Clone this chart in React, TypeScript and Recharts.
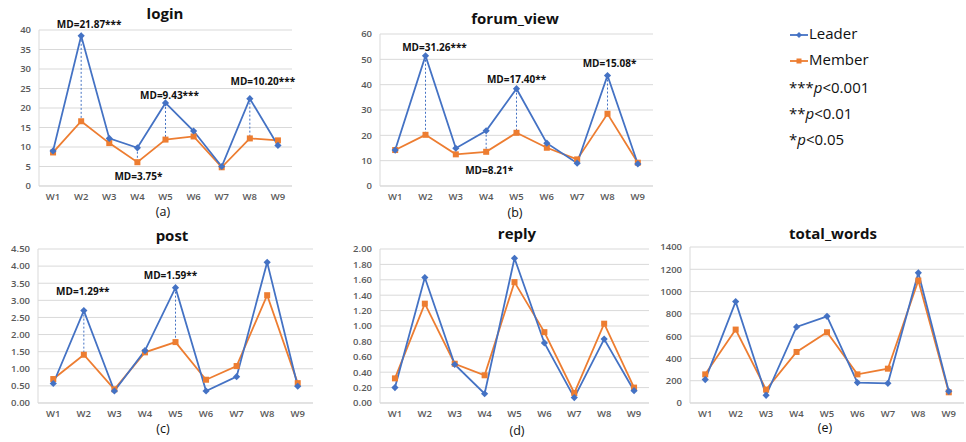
import React from "react";
import { LineChart, Line, XAxis, YAxis, CartesianGrid, ReferenceLine } from "recharts";

const weeks = ["W1", "W2", "W3", "W4", "W5", "W6", "W7", "W8", "W9"];

const loginLeader = [9.0, 38.5, 12.2, 9.8, 21.3, 14.1, 5.0, 22.4, 10.4];
const loginMember = [8.6, 16.6, 11.0, 6.1, 11.9, 12.7, 4.8, 12.2, 11.7];
const forumLeader = [14.2, 51.4, 14.9, 21.8, 38.4, 16.9, 9.0, 43.6, 8.7];
const forumMember = [14.2, 20.2, 12.5, 13.5, 21.0, 15.1, 10.5, 28.5, 9.2];
const postLeader = [0.57, 2.7, 0.35, 1.53, 3.37, 0.35, 0.77, 4.11, 0.49];
const postMember = [0.7, 1.41, 0.4, 1.48, 1.78, 0.68, 1.08, 3.15, 0.58];
const replyLeader = [0.2, 1.63, 0.5, 0.12, 1.88, 0.78, 0.07, 0.83, 0.16];
const replyMember = [0.32, 1.29, 0.51, 0.36, 1.57, 0.92, 0.13, 1.03, 0.2];
const wordsLeader = [210, 910, 69, 683, 778, 183, 177, 1168, 105];
const wordsMember = [257, 659, 120, 458, 635, 257, 308, 1099, 96];

const loginTicks = [0, 5, 10, 15, 20, 25, 30, 35, 40];
const forumTicks = [0, 10, 20, 30, 40, 50, 60];
const postTicks = [0, 0.5, 1, 1.5, 2, 2.5, 3, 3.5, 4, 4.5];
const replyTicks = [0, 0.2, 0.4, 0.6, 0.8, 1, 1.2, 1.4, 1.6, 1.8, 2];
const wordsTicks = [0, 200, 400, 600, 800, 1000, 1200, 1400];

const loginNotes = [
  { week: "W2", text: "MD=21.87***", side: "above" },
  { week: "W4", text: "MD=3.75*", side: "below" },
  { week: "W5", text: "MD=9.43***", side: "above" },
  { week: "W8", text: "MD=10.20***", side: "above" },
];
const forumNotes = [
  { week: "W2", text: "MD=31.26***", side: "above" },
  { week: "W4", text: "MD=8.21*", side: "below" },
  { week: "W5", text: "MD=17.40**", side: "above" },
  { week: "W8", text: "MD=15.08*", side: "above" },
];
const postNotes = [
  { week: "W2", text: "MD=1.29**", side: "above" },
  { week: "W5", text: "MD=1.59**", side: "above" },
];

// label nudges [dx, dy] in px, same order as the notes
const loginNudge = [[8, -11], [1, 15], [4, -7], [13, -16]];
const forumNudge = [[9, -7], [3, 20], [0, -8], [2, -11]];
const postNudge = [[-1, -18], [-5, -11]];

const BLUE = "#4472C4";
const ORANGE = "#ED7D31";
const FONT = "'Open Sans', 'Noto Sans', sans-serif";

const Diamond = (p: any) => {
  const { cx, cy } = p;
  if (cx == null || cy == null) return <g key={p.key} />;
  const s = 3.6;
  return <path key={p.key} d={`M${cx},${cy - s}L${cx + s},${cy}L${cx},${cy + s}L${cx - s},${cy}Z`} fill={BLUE} />;
};
const Square = (p: any) => {
  const { cx, cy } = p;
  if (cx == null || cy == null) return <g key={p.key} />;
  const s = 3;
  return <rect key={p.key} x={cx - s} y={cy - s} width={s * 2} height={s * 2} fill={ORANGE} />;
};

const NoteLabel = (props: any) => {
  const { viewBox, text, side, dx, dy } = props;
  if (!viewBox) return null;
  const x = viewBox.x + dx;
  const y = (side === "below" ? viewBox.y + viewBox.height : viewBox.y) + dy;
  return (
    <text x={x} y={y} textAnchor="middle" dominantBaseline="middle" fontFamily={FONT} fontSize={10} fontWeight={700} fill="#111">
      {text}
    </text>
  );
};

function Panel(props: any) {
  const { left, top, width, height, plotLeft, plotRight, plotTop, plotBottom, leader, member, ticks, digits, notes, nudge } = props;
  const yW = 30;
  const xH = 20;
  const half = (plotRight - plotLeft) / weeks.length / 2;
  const data = weeks.map((w, i) => ({ week: w, leader: leader[i], member: member[i] }));
  const max = ticks[ticks.length - 1];
  return (
    <div style={{ position: "absolute", left, top }}>
      <LineChart
        width={width}
        height={height}
        data={data}
        margin={{ top: plotTop, right: width - plotRight, bottom: height - plotBottom - xH, left: plotLeft - yW }}
        style={{ overflow: "visible" }}
      >
        <CartesianGrid vertical={false} stroke="#d9d9d9" />
        <XAxis
          dataKey="week"
          height={xH}
          padding={{ left: half, right: half }}
          axisLine={{ stroke: "#d9d9d9" }}
          tickLine={false}
          tickMargin={1}
          tick={{ fontSize: 9.5, fill: "#595959", fontFamily: FONT, fontWeight: 600 }}
          interval={0}
        />
        <YAxis
          width={yW}
          domain={[0, max]}
          ticks={ticks}
          interval={0}
          axisLine={{ stroke: "#d9d9d9" }}
          tickLine={false}
          tickFormatter={(v: number) => v.toFixed(digits)}
          tick={{ fontSize: 9.5, fill: "#595959", fontFamily: FONT, fontWeight: 600 }}
        />
        {(notes || []).map((n: any, i: number) => {
          const idx = weeks.indexOf(n.week);
          return (
            <ReferenceLine
              key={n.week}
              segment={[
                { x: n.week, y: leader[idx] },
                { x: n.week, y: member[idx] },
              ]}
              stroke={BLUE}
              strokeWidth={1}
              strokeDasharray="2 2"
              ifOverflow="visible"
              label={<NoteLabel text={n.text} side={n.side} dx={nudge[i][0]} dy={nudge[i][1]} />}
            />
          );
        })}
        <Line dataKey="member" stroke={ORANGE} strokeWidth={1.8} dot={Square} activeDot={false} isAnimationActive={false} />
        <Line dataKey="leader" stroke={BLUE} strokeWidth={1.8} dot={Diamond} activeDot={false} isAnimationActive={false} />
      </LineChart>
    </div>
  );
}

const titles = [
  { text: "login", x: 165, y: 15 },
  { text: "forum_view", x: 515, y: 20 },
  { text: "post", x: 172, y: 237 },
  { text: "reply", x: 517, y: 235 },
  { text: "total_words", x: 833, y: 235 },
];
const captions = [
  { text: "(a)", x: 163, y: 213 },
  { text: "(b)", x: 515, y: 214 },
  { text: "(c)", x: 163, y: 430 },
  { text: "(d)", x: 517, y: 432 },
  { text: "(e)", x: 825, y: 429 },
];

export default function App() {
  return (
    <div style={{ position: "absolute", left: 0, top: 0, width: 966, height: 442, background: "#fff", overflow: "hidden" }}>
      <Panel left={0} top={0} width={310} height={220} plotLeft={39} plotRight={292} plotTop={30} plotBottom={186}
        leader={loginLeader} member={loginMember} ticks={loginTicks} digits={0} notes={loginNotes} nudge={loginNudge} />
      <Panel left={320} top={0} width={340} height={220} plotLeft={60} plotRight={333} plotTop={34} plotBottom={186}
        leader={forumLeader} member={forumMember} ticks={forumTicks} digits={0} notes={forumNotes} nudge={forumNudge} />
      <Panel left={0} top={220} width={320} height={222} plotLeft={38} plotRight={313} plotTop={29} plotBottom={183}
        leader={postLeader} member={postMember} ticks={postTicks} digits={2} notes={postNotes} nudge={postNudge} />
      <Panel left={320} top={220} width={340} height={222} plotLeft={60} plotRight={329} plotTop={29} plotBottom={183}
        leader={replyLeader} member={replyMember} ticks={replyTicks} digits={2} />
      <Panel left={640} top={220} width={326} height={222} plotLeft={50} plotRight={324} plotTop={27} plotBottom={183}
        leader={wordsLeader} member={wordsMember} ticks={wordsTicks} digits={0} />
      <svg width={966} height={442} style={{ position: "absolute", left: 0, top: 0, pointerEvents: "none" }}>
        {titles.map((t) => (
          <text key={t.text} x={t.x} y={t.y} textAnchor="middle" dominantBaseline="middle" fontFamily={FONT} fontSize={15} fontWeight={700} fill="#111">
            {t.text}
          </text>
        ))}
        {captions.map((t) => (
          <text key={t.text} x={t.x} y={t.y} textAnchor="middle" dominantBaseline="middle" fontFamily={FONT} fontSize={12.5} fill="#111">
            {t.text}
          </text>
        ))}
        <g fontFamily={FONT} fontSize={15} fill="#111">
          <line x1={790} y1={35} x2={808} y2={35} stroke={BLUE} strokeWidth={1.8} />
          <path d="M799,32L802,35L799,38L796,35Z" fill={BLUE} />
          <text x={809} y={35} dominantBaseline="middle">Leader</text>
          <line x1={790} y1={61} x2={808} y2={61} stroke={ORANGE} strokeWidth={1.8} />
          <rect x={796.5} y={58.5} width={5} height={5} fill={ORANGE} />
          <text x={809} y={61} dominantBaseline="middle">Member</text>
          <text x={789} y={89} dominantBaseline="middle">***<tspan fontStyle="italic">p</tspan>&lt;0.001</text>
          <text x={789} y={115} dominantBaseline="middle">**<tspan fontStyle="italic">p</tspan>&lt;0.01</text>
          <text x={789} y={141} dominantBaseline="middle">*<tspan fontStyle="italic">p</tspan>&lt;0.05</text>
        </g>
      </svg>
    </div>
  );
}
